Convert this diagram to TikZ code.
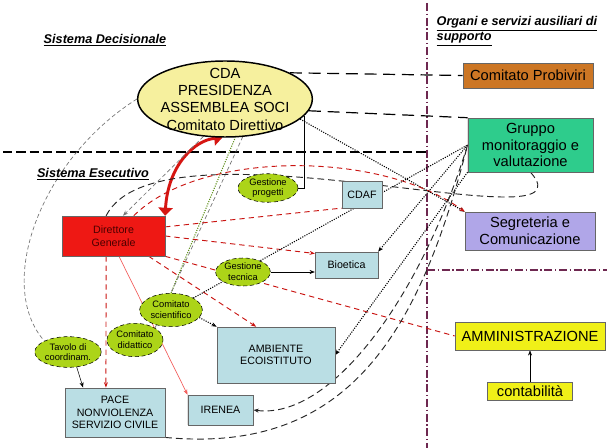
\documentclass[tikz,border=0pt]{standalone}
\usepackage{fontspec}
\setmainfont{Liberation Sans}
\usetikzlibrary{shapes.geometric, arrows.meta, positioning, backgrounds}
\usepackage{xcolor}
\definecolor{CdaYellow}{RGB}{246, 240, 158}
\definecolor{Lime}{RGB}{172, 212, 24}
\definecolor{LimeDark}{RGB}{90, 140, 20}
\definecolor{Sky}{RGB}{186, 222, 228}
\definecolor{Exec}{RGB}{238, 24, 20}
\definecolor{Probi}{RGB}{204, 118, 36}
\definecolor{Monit}{RGB}{46, 204, 140}
\definecolor{Segre}{RGB}{176, 166, 232}
\definecolor{Ammin}{RGB}{240, 240, 24}
\definecolor{Divider}{RGB}{110, 40, 80}
\tikzset{
    box/.style={
        rectangle, draw=black!60, thin, align=center, inner sep=1pt,
        font=\fontsize{11}{12.5}\selectfont,
        path picture={\draw[black, line width=1.6pt]
            (path picture bounding box.north west) -- (path picture bounding box.south west);}
    },
    smallbox/.style={box, fill=Sky, font=\fontsize{8}{9.5}\selectfont},
    groupell/.style={
        ellipse, draw=black, densely dashed, fill=Lime, inner sep=0.3pt,
        align=center, font=\fontsize{7}{8}\selectfont
    },
    sectiontitle/.style={font=\fontsize{9.5}{11}\selectfont\bfseries\itshape, align=left},
    arrow/.style={-{Stealth[length=4pt]}},
    blkdash/.style={black, line width=0.9pt, dash pattern=on 9pt off 5pt},
    loopdash/.style={black!85, line width=0.7pt, dash pattern=on 5pt off 3pt},
    reddash/.style={Exec!85!black, line width=0.7pt, dash pattern=on 4pt off 3pt},
    dotline/.style={black, line width=0.8pt, densely dotted},
    thindash/.style={black!55, line width=0.5pt, dash pattern=on 3pt off 2pt},
    divider/.style={Divider, line width=0.8pt, dash pattern=on 6pt off 2pt on 1pt off 2pt}
}

\begin{document}
\begin{tikzpicture}[x=0.75pt, y=-0.75pt]
    \useasboundingbox (0,0) rectangle (607,448);

    % SISTEMA DECISIONALE
    \node[sectiontitle] (titdec) at (105,40) {\underline{Sistema Decisionale}};
    \node[ellipse, draw=black, line width=1.1pt, fill=CdaYellow, align=center,
          inner xsep=-4pt, inner ysep=-6pt, minimum width=131pt, minimum height=57pt,
          font=\fontsize{11}{13}\selectfont] (cda) at (225,99)
        {CDA\\PRESIDENZA\\ASSEMBLEA SOCI\\Comitato Direttivo};

    % ORGANI DI SUPPORTO
    \node[sectiontitle, anchor=north west] (titorg) at (432,12)
        {\underline{Organi e servizi ausiliari di}\\\underline{supporto}};
    \node[box, fill=Probi, minimum width=97.5pt, minimum height=18.75pt] (probiviri) at (528,75.5) {Comitato Probiviri};
    \node[box, fill=Monit, minimum width=94pt, minimum height=40.5pt] (gruppo) at (530.5,145) {Gruppo\\monitoraggio e\\valutazione};
    \node[box, fill=Segre, minimum width=97.5pt, minimum height=28.5pt] (segreteria) at (530,231) {Segreteria e\\Comunicazione};
    \node[box, fill=Ammin, minimum width=112.5pt, minimum height=21pt] (amministrazione) at (530,336) {AMMINISTRAZIONE};
    \node[box, fill=Ammin, minimum width=64pt, minimum height=13.5pt, below=24pt of amministrazione] (contabilita) {contabilità};

    % SISTEMA ESECUTIVO
    \node[sectiontitle] (titexe) at (93,174) {\underline{Sistema Esecutivo}};
    \node[box, fill=Exec, text=black!70!red, font=\fontsize{8}{10}\selectfont,
          minimum width=77pt, minimum height=30pt] (direttore) at (113.5,236) {Direttore\\Generale};
    \node[groupell, minimum width=45pt, minimum height=21pt] (g1) at (268,188) {Gestione\\progetti};
    \node[groupell, minimum width=41pt, minimum height=21pt] (g2) at (243,272) {Gestione\\tecnica};
    \node[groupell, minimum width=47pt, minimum height=25pt] (g3) at (171,310) {Comitato\\scientifico};
    \node[groupell, minimum width=42pt, minimum height=25pt] (g4) at (135,340) {Comitato\\didattico};
    \node[groupell, minimum width=45pt, minimum height=23pt] (g5) at (68,352) {Tavolo di\\coordinam.};
    \node[smallbox, minimum width=30pt, minimum height=20pt] (cdaf) at (362,194.5) {CDAF};
    \node[smallbox, minimum width=47pt, minimum height=19.5pt] (bioetica) at (346.5,265) {Bioetica};
    \node[smallbox, minimum width=88.5pt, minimum height=42pt] (ambiente) at (276,355) {AMBIENTE\\ECOISTITUTO};
    \node[smallbox, minimum width=75pt, minimum height=37pt] (pace) at (115,412.5) {PACE\\NONVIOLENZA\\SERVIZIO CIVILE};
    \node[smallbox, minimum width=49pt, minimum height=22.5pt] (irenea) at (220.5,410) {IRENEA};

    \begin{scope}[on background layer]
        \fill[white] (0,0) rectangle (607,448);
        % separators
        \draw[divider] (427,3) -- (427,448);
        \draw[divider] (427,270) -- (607,270);
        \draw[black, line width=0.9pt, dash pattern=on 7pt off 3pt] (3,152) -- (427,152);

        % decision links
        \draw[blkdash] (cda.22) -- (probiviri.west);
        \draw[blkdash] (cda.-8) -- (gruppo.north west);
        \draw[dotline, arrow] (cda.-15) -- (segreteria.north west);
        \draw[Exec!90!black, line width=2.2pt, {Triangle[length=6pt]}-{Triangle[length=6pt]}]
            (cda.266) .. controls (195,140) and (168,165) .. (direttore.north east);
        \draw[thindash, arrow] (cda.240) -- (direttore.65);
        \draw[thindash] (cda.west) .. controls (40,160) and (-5,285) .. (g5.north west);
        \draw[black] (g1.east) -| (cda.-12);
        \draw[dotline, LimeDark] (g3.north) -- (cda.285);
        \draw[thindash] (g4.north east) -- (cda.295);

        % executive links
        \draw[loopdash] (direttore.110) .. controls (160,110) and (600,250) .. (gruppo.south);
        \draw[reddash, arrow] (direttore.45) .. controls (200,150) and (380,150) .. (segreteria.north west);
        \draw[reddash] (direttore.10) -- (cdaf.south west);
        \draw[reddash, arrow] (direttore.east) -- (bioetica.160);
        \draw[reddash] (direttore.south east) -- (amministrazione.west);
        \draw[reddash, arrow] (direttore.250) -- (pace.110);
        \draw[Exec!70, line width=0.5pt, arrow] (direttore.-75) -- (irenea.north west);
        \draw[reddash, arrow] (direttore.-30) -- (ambiente.125);
        \draw[arrow] (g2.east) -- (g2.east -| bioetica.west);
        \draw[dotline, arrow] (g3.-15) -- (ambiente.north west);
        \draw[arrow] (g5.-60) -- (pace.142);

        % monitoring links
        \draw[dotline, arrow] (gruppo.west) -- (bioetica.north east);
        \draw[dotline, arrow] (gruppo.south west) -- (ambiente.east);
        \draw[dotline] (g3.north east) -- (gruppo.west);
        \draw[loopdash] (pace.south east) .. controls (350,455) and (420,330) .. (gruppo.west);
        \draw[loopdash, arrow] (gruppo.west) .. controls (420,300) and (330,420) .. (irenea.east);

        % amministrazione
        \draw[arrow] (contabilita.north) -- (contabilita.north |- amministrazione.south);
    \end{scope}

\end{tikzpicture}
\end{document}
